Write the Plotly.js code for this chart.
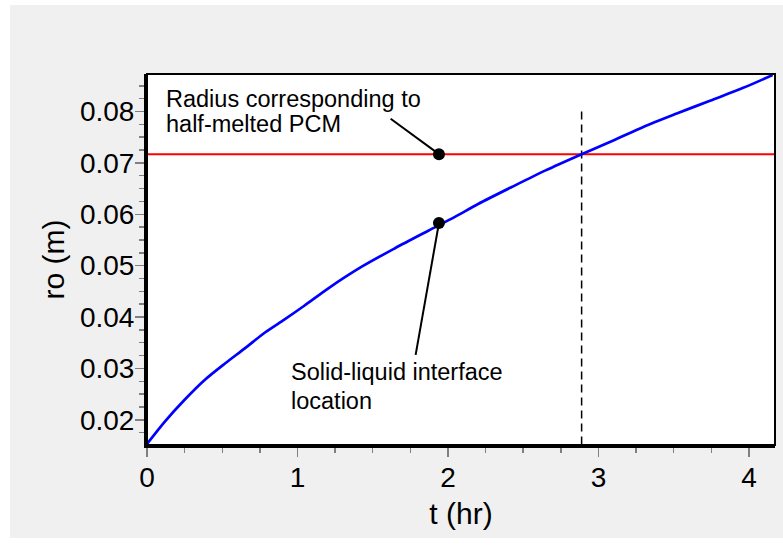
<!DOCTYPE html>
<html>
<head>
<meta charset="utf-8">
<script src="https://cdn.plot.ly/plotly-3.0.1.min.js"></script>
<style>
  html, body { margin: 0; padding: 0; background: #ffffff; }
  #chart { position: absolute; left: 10px; top: 5px; width: 773px; height: 533px; }
</style>
</head>
<body>
<div id="chart"></div>
<script>
// Interface location curve: time (hr) vs radius ro (m)
var timeHr = [0, 0.12, 0.25, 0.385, 0.52, 0.65, 0.784, 0.917, 1.045, 1.205, 1.427, 1.648, 1.869, 2.046, 2.2, 2.423, 2.645, 2.888, 3.11, 3.298, 3.52, 3.741, 3.962, 4.157];
var radiusM = [0.0153, 0.0197, 0.0239, 0.0278, 0.0310, 0.0339, 0.0370, 0.0396, 0.0422, 0.0456, 0.0498, 0.0534, 0.0568, 0.0595, 0.0620, 0.0653, 0.0685, 0.0717, 0.0745, 0.0770, 0.0796, 0.0821, 0.0846, 0.0871];

// Half-melted radius (horizontal reference line)
var halfMeltX = [0, 4.173];
var halfMeltY = [0.0717, 0.0717];

// Time at which half of the PCM is melted (vertical dashed line)
var halfTimeX = [2.888, 2.888];
var halfTimeY = [0.08, 0.0151];

// Callout pointers
var pointer1X = [1.619, 1.94];
var pointer1Y = [0.07858, 0.0717];
var pointer2X = [1.785, 1.94];
var pointer2Y = [0.03265, 0.0583];
var dotX = [1.94, 1.94];
var dotY = [0.0717, 0.0583];

// Axis ticks
var xTicks = [0, 1, 2, 3, 4];
var xTickText = ['0', '1', '2', '3', '4'];
var yTicks = [0.02, 0.03, 0.04, 0.05, 0.06, 0.07, 0.08];
var yTickText = ['0.02', '0.03', '0.04', '0.05', '0.06', '0.07', '0.08'];

var FONT = 'Liberation Sans, Arial, Helvetica, sans-serif';

var traces = [
  { x: halfMeltX, y: halfMeltY, mode: 'lines', line: { color: '#ff0000', width: 2 }, hoverinfo: 'skip' },
  { x: halfTimeX, y: halfTimeY, mode: 'lines', line: { color: '#000000', width: 1.5, dash: '8px,5px' }, hoverinfo: 'skip' },
  { x: timeHr, y: radiusM, mode: 'lines', line: { color: '#0000ff', width: 2.7, shape: 'spline', smoothing: 0.8 } },
  { x: pointer1X, y: pointer1Y, mode: 'lines', line: { color: '#000000', width: 2 }, hoverinfo: 'skip' },
  { x: pointer2X, y: pointer2Y, mode: 'lines', line: { color: '#000000', width: 2 }, hoverinfo: 'skip' },
  { x: dotX, y: dotY, mode: 'markers', marker: { color: '#000000', size: 12 }, hoverinfo: 'skip' }
];

var annFont = { family: FONT, size: 23.5, color: '#000000' };
var layout = {
  width: 773, height: 533,
  paper_bgcolor: '#f0f0f0',
  plot_bgcolor: '#ffffff',
  showlegend: false,
  margin: { l: 137, r: 8, t: 69, b: 93 },
  font: { family: FONT, color: '#000000' },
  xaxis: {
    range: [0, 4.173],
    tickvals: xTicks, ticktext: xTickText,
    ticks: 'outside', ticklen: 9, tickwidth: 1.5, tickcolor: '#808080',
    ticklabelstandoff: -4,
    tickfont: { family: FONT, size: 28, color: '#000000' },
    minor: { dtick: 0.25, ticks: 'outside', ticklen: 5, tickwidth: 1.5, tickcolor: '#808080', showgrid: false },
    showline: true, linecolor: '#000000', linewidth: 3,
    showgrid: false, zeroline: false,
    title: { text: 't (hr)', font: { family: FONT, size: 30, color: '#000000' }, standoff: 12 }
  },
  yaxis: {
    range: [0.0151, 0.0873],
    tickvals: yTicks, ticktext: yTickText,
    ticks: 'outside', ticklen: 9, tickwidth: 1.5, tickcolor: '#808080',
    ticklabelstandoff: -5,
    tickfont: { family: FONT, size: 28, color: '#000000' },
    minor: { dtick: 0.0025, ticks: 'outside', ticklen: 5, tickwidth: 1.5, tickcolor: '#808080', showgrid: false },
    showline: true, linecolor: '#000000', linewidth: 3,
    showgrid: false, zeroline: false,
    title: { text: 'ro (m)', font: { family: FONT, size: 30, color: '#000000' }, standoff: 7 }
  },
  shapes: [
    { type: 'rect', xref: 'paper', yref: 'paper', x0: 0, x1: 1, y0: 0, y1: 1, line: { color: '#000000', width: 2 }, layer: 'above' }
  ],
  annotations: [
    { x: 0.111, y: 0.08247, xref: 'x', yref: 'y', text: 'Radius corresponding to', showarrow: false, xanchor: 'left', yanchor: 'middle', font: annFont },
    { x: 0.111, y: 0.07751, xref: 'x', yref: 'y', text: 'half-melted PCM', showarrow: false, xanchor: 'left', yanchor: 'middle', font: annFont },
    { x: 0.941, y: 0.02934, xref: 'x', yref: 'y', text: 'Solid-liquid interface', showarrow: false, xanchor: 'left', yanchor: 'middle', font: annFont },
    { x: 0.941, y: 0.0237, xref: 'x', yref: 'y', text: 'location', showarrow: false, xanchor: 'left', yanchor: 'middle', font: annFont }
  ]
};

Plotly.newPlot('chart', traces, layout, { displayModeBar: false, staticPlot: true });
</script>
</body>
</html>
